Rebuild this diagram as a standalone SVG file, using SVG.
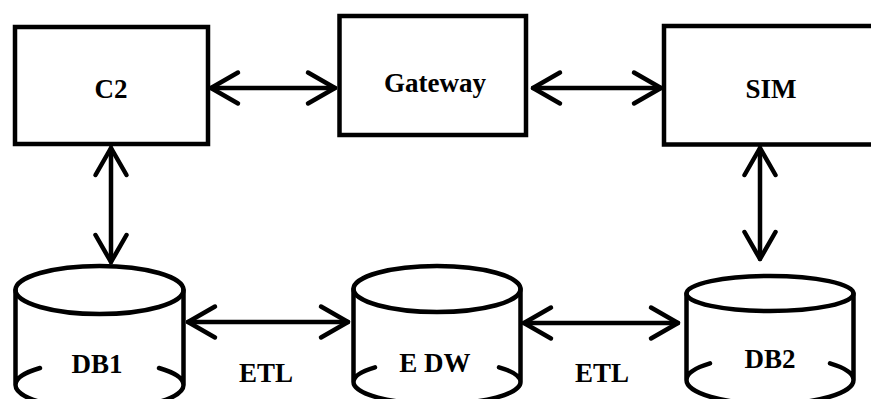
<svg xmlns="http://www.w3.org/2000/svg" width="871" height="399" viewBox="0 0 871 399">
<style>
.box{fill:#fff;stroke:#000;stroke-width:4.5}
.cyl{fill:none;stroke:#000;stroke-width:4.5;stroke-linecap:round}
.lbl{font-weight:bold;font-size:27px;fill:#000;text-anchor:middle}
.con{fill:none;stroke:#000;stroke-width:4.5;stroke-linecap:round}
</style>
<defs>
<marker id="arr" viewBox="-30 -20 40 40" refX="0" refY="0" markerWidth="40" markerHeight="40" markerUnits="userSpaceOnUse" orient="auto-start-reverse" overflow="visible">
<path d="M-27,-15.5 L0,0 L-27,15.5" fill="none" stroke="#000" stroke-width="4.5" stroke-linecap="round" stroke-linejoin="round"/>
</marker>
</defs>
<rect width="871" height="399" fill="#fff"/>
<g id="connectors">
<line class="con" x1="211" y1="88" x2="335" y2="88" marker-start="url(#arr)" marker-end="url(#arr)"/>
<line class="con" x1="533" y1="88" x2="661" y2="88" marker-start="url(#arr)" marker-end="url(#arr)"/>
<line class="con" x1="111" y1="148" x2="111" y2="262" marker-start="url(#arr)" marker-end="url(#arr)"/>
<line class="con" x1="760" y1="148" x2="760" y2="259" marker-start="url(#arr)" marker-end="url(#arr)"/>
<line class="con" x1="188" y1="322" x2="348" y2="322" marker-start="url(#arr)" marker-end="url(#arr)"/>
<line class="con" x1="524" y1="323" x2="678" y2="323" marker-start="url(#arr)" marker-end="url(#arr)"/>
</g>
<g font-family="'Liberation Serif', 'Times New Roman', 'DejaVu Serif', serif">
<g id="c2">
<rect class="box" x="15" y="27" width="193" height="117"/>
<text class="lbl" x="111" y="98">C2</text>
</g>
<g id="gateway">
<rect class="box" x="339.5" y="16" width="186.5" height="119"/>
<text class="lbl" x="435" y="92">Gateway</text>
</g>
<g id="sim">
<rect class="box" x="664" y="26" width="230" height="118.5"/>
<text class="lbl" x="771" y="98">SIM</text>
</g>
<g id="db1">
<ellipse class="cyl" cx="99.5" cy="290" rx="84" ry="24"/>
<path class="cyl" d="M15.5,290 V385 M183.5,290 V385 M15.5,385 A84,24 0 0 0 183.5,385 M15.5,385 A84,24 0 0 1 40,368 M159,368 A84,24 0 0 1 183.5,385"/>
<text class="lbl" x="97" y="373">DB1</text>
</g>
<g id="edw">
<ellipse class="cyl" cx="437" cy="289" rx="83.5" ry="23"/>
<path class="cyl" d="M353.5,289 V382 M520.5,289 V382 M353.5,382 A83.5,22 0 0 0 520.5,382 M353.5,382 A83.5,22 0 0 1 375,367.3 M499,367.3 A83.5,22 0 0 1 520.5,382"/>
<text class="lbl" x="435" y="372">E DW</text>
</g>
<g id="db2">
<ellipse class="cyl" cx="770" cy="293.5" rx="83.5" ry="17.5"/>
<path class="cyl" d="M686.5,293.5 V380 M853.5,293.5 V380 M686.5,380 A83.5,24 0 0 0 853.5,380 M686.5,380 A83.5,24 0 0 1 710,363.3 M830,363.3 A83.5,24 0 0 1 853.5,380"/>
<text class="lbl" x="770" y="368">DB2</text>
</g>
<g id="labels">
<text class="lbl" x="266" y="382">ETL</text>
<text class="lbl" x="602" y="382">ETL</text>
</g>
</g>
</svg>
